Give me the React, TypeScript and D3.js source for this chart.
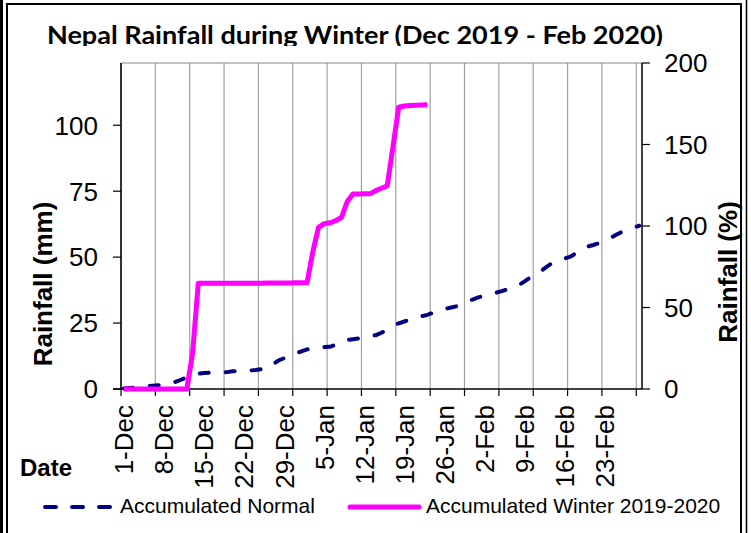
import React from "react";
import * as d3 from "d3";

// daily categories, 1 Dec 2019 .. 29 Feb 2020
const days = d3.timeDay.range(new Date(2019, 11, 1), new Date(2020, 2, 1));

const tickLabels = [
  "1-Dec", "8-Dec", "15-Dec", "22-Dec", "29-Dec", "5-Jan", "12-Jan",
  "19-Jan", "26-Jan", "2-Feb", "9-Feb", "16-Feb", "23-Feb",
];

// accumulated normal (mm), one value per day
const normal = [
  0.2, 0.4, 0.6, 0.8, 1.0, 1.2, 1.4, 1.6, 1.9, 2.7,
  3.5, 4.5, 5.2, 5.8, 6.1, 6.2, 6.2, 6.2, 6.4, 6.7,
  6.9, 6.9, 7.0, 7.2, 7.5, 7.6, 9.3, 10.8, 11.7, 12.5,
  13.4, 14.3, 15.0, 15.6, 15.8, 15.9, 16.0, 16.8, 18.0, 18.6,
  18.9, 19.2, 19.6, 20.1, 20.4, 21.3, 22.6, 24.0, 24.9, 25.6,
  26.3, 27.0, 27.6, 28.1, 28.9, 29.7, 30.3, 30.8, 31.3, 32.3,
  33.2, 34.0, 34.8, 35.3, 36.0, 36.5, 37.1, 37.8, 38.5, 39.4,
  40.8, 42.3, 43.5, 45.0, 46.6, 48.0, 49.0, 49.5, 50.2, 51.5,
  53.2, 54.0, 54.6, 55.3, 56.2, 57.3, 58.5, 59.6, 60.4, 61.2,
  61.9,
];

// accumulated winter 2019-2020 (mm), up to 23 Jan
const winter = [
  0, 0, 0, 0, 0, 0, 0, 0, 0, 0,
  0, 0, 13.5, 40.1, 40.1, 40.1, 40.1, 40.1, 40.1, 40.1,
  40.1, 40.1, 40.1, 40.1, 40.1, 40.2, 40.2, 40.2, 40.2, 40.2,
  40.3, 40.3, 40.3, 52.0, 61.3, 62.7, 63.0, 63.8, 65.0, 71.0,
  73.9, 73.9, 74.0, 74.0, 75.2, 76.1, 77.0, 91.8, 106.8, 107.3,
  107.5, 107.6, 107.7, 107.8,
];

const leftTicks = [0, 25, 50, 75, 100];
const rightTicks = [0, 50, 100, 150, 200];

const sans = "'Liberation Sans', Arial, sans-serif";

export default function App() {
  const left = 121, right = 642, top = 63, bottom = 389;

  const x = d3.scaleBand<number>().domain(d3.range(days.length)).range([left, right]);
  const cx = (i: number) => x(i)! + x.bandwidth() / 2;
  const yL = d3.scaleLinear().domain([0, 123.6]).range([bottom, top]);
  const yR = d3.scaleLinear().domain([0, 200]).range([bottom, top]);

  const line = d3
    .line<number>()
    .x((d, i) => cx(i))
    .y((d) => yL(d));

  const grid = d3.range(0, days.length, 6).map((i) => x(i)!);
  const labelIdx = tickLabels.map((_, k) => k * 7);

  return (
    <svg
      width={751}
      height={533}
      style={{ position: "absolute", left: 0, top: 0, background: "#fff" }}
    >
      <defs>
        <clipPath id="titleClip">
          <rect x={0} y={0} width={751} height={46} />
        </clipPath>
      </defs>

      {/* frame */}
      <line x1={1.5} x2={1.5} y1={0} y2={533} stroke="#000" strokeWidth={3} />
      <rect x={7} y={4} width={734} height={540} fill="none" stroke="#000" strokeWidth={2} />
      <line x1={746.5} x2={746.5} y1={0} y2={533} stroke="#000" strokeWidth={1.5} />

      <text
        x={47}
        y={44}
        clipPath="url(#titleClip)"
        fontFamily="Lato, 'Open Sans', sans-serif"
        fontWeight="bold"
        fontSize={25}
        textLength={616}
        lengthAdjust="spacingAndGlyphs"
      >
        Nepal Rainfall during Winter (Dec 2019 - Feb 2020)
      </text>

      {/* grid */}
      {grid.map((gx, i) => (
        <line key={i} x1={gx} x2={gx} y1={top} y2={bottom} stroke="#a0a0a0" strokeWidth={1.2} />
      ))}
      <line x1={left} x2={right} y1={top} y2={top} stroke="#888" strokeWidth={1.2} />

      {/* axes */}
      <line x1={left} x2={left} y1={top} y2={bottom} stroke="#000" strokeWidth={1.5} />
      <line x1={right} x2={right} y1={top} y2={bottom} stroke="#000" strokeWidth={1.5} />
      <line x1={left - 8} x2={right} y1={bottom} y2={bottom} stroke="#000" strokeWidth={1.5} />
      {grid.map((gx, i) => (
        <line key={i} x1={gx} x2={gx} y1={bottom} y2={bottom + 7} stroke="#000" strokeWidth={1.2} />
      ))}

      {leftTicks.map((t) => (
        <g key={t}>
          <line x1={left - 8} x2={left} y1={yL(t)} y2={yL(t)} stroke="#000" strokeWidth={1.2} />
          <text x={98} y={yL(t)} dy="0.36em" textAnchor="end" fontFamily={sans} fontSize={26}>
            {t}
          </text>
        </g>
      ))}
      {rightTicks.map((t) => (
        <g key={t}>
          <line x1={right} x2={right + 8} y1={yR(t)} y2={yR(t)} stroke="#000" strokeWidth={1.2} />
          <text x={664} y={yR(t)} dy="0.36em" fontFamily={sans} fontSize={26}>
            {t}
          </text>
        </g>
      ))}

      {labelIdx.map((i, k) => (
        <text
          key={k}
          transform={`translate(${cx(i)},405) rotate(-90)`}
          dy="0.36em"
          textAnchor="end"
          fontFamily={sans}
          fontSize={26}
        >
          {tickLabels[k]}
        </text>
      ))}

      <text
        transform="translate(43,284) rotate(-90)"
        dy="0.36em"
        textAnchor="middle"
        fontFamily={sans}
        fontWeight="bold"
        fontSize={26}
      >
        Rainfall (mm)
      </text>
      <text
        transform="translate(728,272) rotate(-90)"
        dy="0.36em"
        textAnchor="middle"
        fontFamily={sans}
        fontWeight="bold"
        fontSize={26}
      >
        Rainfall (%)
      </text>
      <text x={20} y={476} fontFamily={sans} fontWeight="bold" fontSize={24}>
        Date
      </text>

      {/* series */}
      <path
        d={line(normal)!}
        fill="none"
        stroke="#000080"
        strokeWidth={4}
        strokeDasharray="9 17"
        strokeLinecap="round"
      />
      <path
        d={line(winter)!}
        fill="none"
        stroke="#ff00ff"
        strokeWidth={5}
        strokeLinejoin="round"
      />

      {/* legend */}
      <line
        x1={45}
        x2={112}
        y1={507}
        y2={507}
        stroke="#000080"
        strokeWidth={4}
        strokeDasharray="11 16"
        strokeLinecap="round"
      />
      <text x={120} y={513} fontFamily={sans} fontSize={21}>
        Accumulated Normal
      </text>
      <line x1={350} x2={419} y1={507} y2={507} stroke="#ff00ff" strokeWidth={5} strokeLinecap="round" />
      <text x={426} y={513} fontFamily={sans} fontSize={21}>
        Accumulated Winter 2019-2020
      </text>
    </svg>
  );
}
